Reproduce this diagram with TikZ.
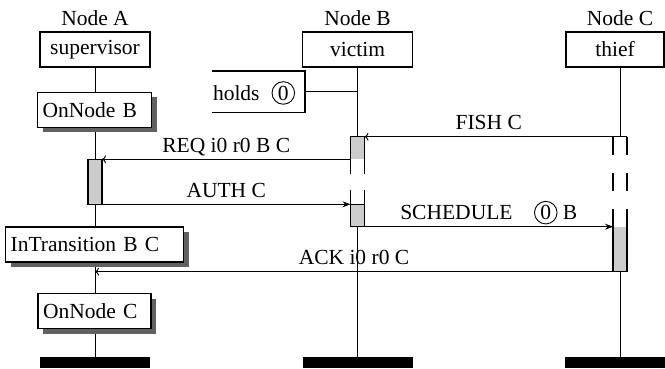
\documentclass[tikz,border=0pt]{standalone}
\usepackage{fontspec}
\setmainfont{Liberation Serif}
\usetikzlibrary{arrows.meta,shadows}
\definecolor{actgray}{gray}{0.8}
\definecolor{shadowgray}{gray}{0.38}
\pgfdeclarelayer{bg}
\pgfsetlayers{bg,main}
\newcommand{\circz}{\tikz[baseline=(cz.base)]\node[draw,circle,inner sep=1.6pt,line width=0.9pt](cz){0};}
\begin{document}
\begin{tikzpicture}[x=1pt,y=-1pt,
  font=\fontsize{21.5}{25}\selectfont,
  every node/.style={inner sep=0pt, outer sep=0pt},
  hdrbox/.style={draw, line width=1.2pt, fill=white, minimum height=35pt},
  statebox/.style={draw, line width=1.2pt, fill=white, minimum height=35pt, anchor=west, align=left, inner xsep=5pt,
    drop shadow={shadow xshift=5pt, shadow yshift=-5pt, fill=shadowgray, opacity=1}},
  actbox/.style={draw, line width=1.3pt, fill=actgray, minimum width=14pt},
  endbar/.style={fill=black, minimum height=11pt, minimum width=110pt},
  life/.style={line width=0.9pt},
  msgl/.style={line width=0.9pt, -{To[length=4pt,width=8pt]}},
  msgr/.style={line width=0.9pt, -{Stealth[length=8pt,width=6pt]}},
  lbl/.style={anchor=base, yshift=7pt},
  dsh/.style={line width=1.2pt}
]
\useasboundingbox (0,0) rectangle (665,368);

% column coordinates
\coordinate (al) at (95,0);
\coordinate (bl) at (357.5,0);
\coordinate (cl) at (620,0);

% headers
\node[anchor=base] (labA) at (95,25) {Node A};
\node[anchor=base] (labB) at (357.5,25) {Node B};
\node[anchor=base] (labC) at (620,25) {Node C};
\node[hdrbox, minimum width=110pt] (sup) at (95,49.5) {supervisor};
\node[hdrbox, minimum width=110pt] (vic) at (357.5,49.5) {victim};
\node[hdrbox, minimum width=98pt] (thf) at (615,49.5) {thief};

% end bars
\node[endbar] (barA) at (95,362.5) {};
\node[endbar] (barB) at (357.5,362.5) {};
\node[endbar] (barC) at (620,362.5) {};

% state boxes
\node[statebox, text width=104pt] (onb) at (37.7,109.8) {OnNode B};
\node[statebox, text width=168pt] (intr) at (5.7,244.5) {InTransition B C};
\node[statebox, text width=103pt] (onc) at (38,311) {OnNode C};

% holds box (open on the left)
\node[anchor=west, minimum width=93pt, minimum height=41.7pt] (holds) at (212,91.9) {};
\draw[line width=1.2pt] (holds.north west) -- (holds.north east) -- (holds.south east) -- (holds.south west);
\node[anchor=base west] (holdstxt) at (213,100) {holds\hspace{12pt}\circz};

% activation boxes
\node[actbox, minimum height=45pt] (aA) at (95,181.8) {};
\node[actbox, minimum height=22.6pt] (bB1) at (357.5,148) {};
\node[actbox, minimum height=22.4pt] (bB2) at (357.5,215.5) {};
\node[actbox, minimum height=45pt] (cC2) at (620,249.2) {};

% B middle (dashed)
\fill[white] (bB1.south west) rectangle (bB2.north east);
\draw[dsh] (bB1.south west) -- ++(0,15);
\draw[dsh] (bB1.south east) -- ++(0,15);
\draw[dsh] (bB2.north west) -- ++(0,-14);
\draw[dsh] (bB2.north east) -- ++(0,-14);

% C upper (dashed)
\coordinate (cTopW) at (613,136.7);
\coordinate (cTopE) at (627,136.7);
\fill[white] (cTopW) rectangle (cC2.north east);
\draw[dsh] (cTopW) -- (cTopE);
\draw[dsh] (cTopW) -- ++(0,18);
\draw[dsh] (cTopE) -- ++(0,18);
\draw[dsh] (613,173.3) -- (613,190.7);
\draw[dsh] (627,173.3) -- (627,190.7);
\draw[dsh] (cC2.north west) -- ++(0,-17.4);
\draw[dsh] (cC2.north east) -- ++(0,-17.4);

% lifelines
\begin{pgfonlayer}{bg}
\draw[life] (sup.south) -- (barA.north);
\draw[life] (vic.south) -- (barB.north);
\draw[life] (thf.south -| cl) -- (barC.north);
\draw[life] (holds.east) -- (holds.east -| bl);
\end{pgfonlayer}

% messages
\coordinate (ackEnd) at (95,271.7);
\draw[msgl] (cTopW) -- node[lbl]{FISH C} (bB1.north east);
\draw[msgl] (bB1.south west) -- node[lbl]{REQ i0 r0 B C} (aA.north east);
\draw[msgr] (aA.south east) -- node[lbl]{AUTH C} (bB2.north west);
\draw[msgr] (bB2.south east) -- node[lbl]{SCHEDULE\quad\circz\ B} (cC2.north west);
\draw[msgl] (cC2.south west) -- node[lbl]{ACK i0 r0 C} (ackEnd);
\end{tikzpicture}
\end{document}
